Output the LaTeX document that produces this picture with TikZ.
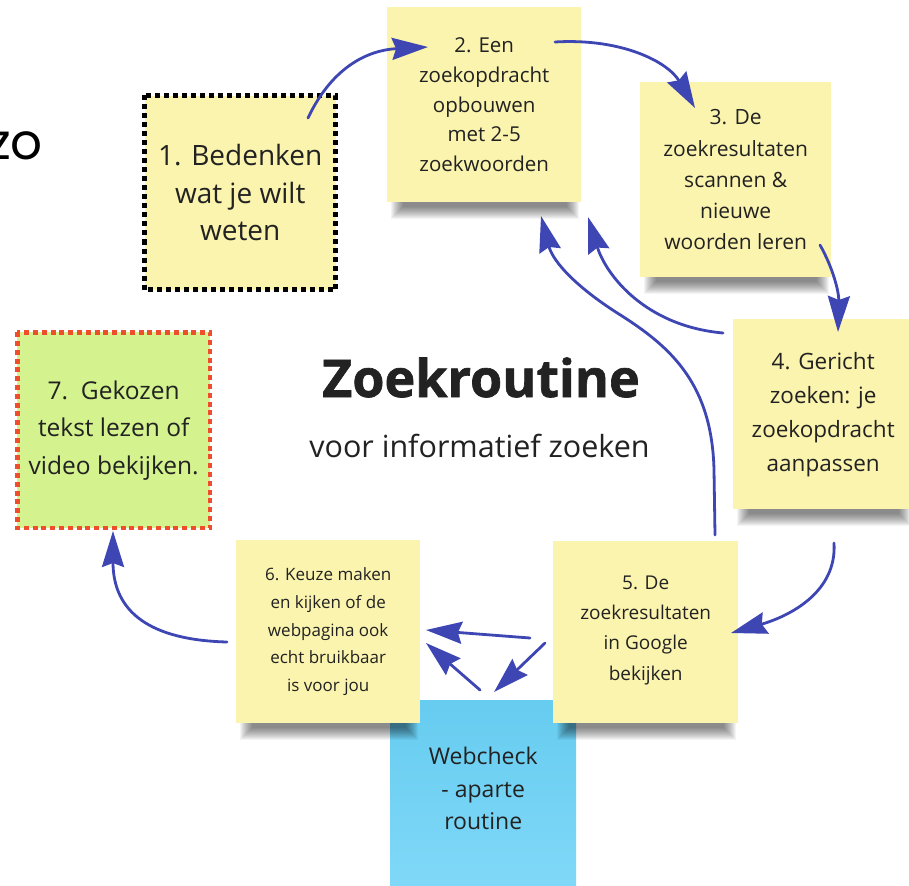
\documentclass[tikz,border=0pt]{standalone}
\usepackage{fontspec}
\setmainfont{Open Sans}
\newfontfamily\titlefont{Open Sans}[BoldFeatures={FakeBold=1.3}]
\newfontfamily\zofont{Poppins}
\usetikzlibrary{arrows.meta}
\definecolor{stickyY}{HTML}{FBF4AE}
\definecolor{stickyG}{HTML}{D4F28E}
\definecolor{blueTop}{HTML}{66CCF0}
\definecolor{blueBot}{HTML}{80D8F8}
\definecolor{arrowc}{HTML}{3E46B4}
\definecolor{ink}{HTML}{222222}
\definecolor{redb}{HTML}{EE4E2C}
\tikzset{
  sticky/.style={fill=stickyY, inner sep=0pt, anchor=north west, align=center, text=ink},
  plainnote/.style={inner sep=0pt, anchor=north west, align=center, text=ink},
  flow/.style={draw=arrowc, line width=2.8pt, line cap=round, -{Stealth[length=36pt,width=22pt,inset=4pt]}},
  blackdots/.style={draw=black, line width=5pt, dash pattern=on 5pt off 4pt},
  reddots/.style={draw=redb, line width=4.5pt, dash pattern=on 5pt off 3.8pt},
  shadowlayer/.style={fill=black, opacity=0.045},
}
% soft shadow under a note: left x, right x, bottom y
\newcommand\noteshadow[3]{%
  \foreach \k in {0,...,12}{%
    \fill[shadowlayer] ({#1+16-\k},{#3-30-\k}) rectangle ({#2-14+\k},{#3+5+\k});
  }}
\begin{document}
\begin{tikzpicture}[x=1pt,y=-1pt]
\useasboundingbox (0,0) rectangle (909,885);
\fill[white] (0,0) rectangle (909,885);

% partial text at left edge
\node[anchor=base east, inner sep=0pt, font=\zofont\fontsize{50}{50}\selectfont] (zo) at (43,160) {zo};

% webcheck (behind others)
\node[plainnote, minimum width=186pt, minimum height=186pt, top color=blueTop, bottom color=blueBot,
  font=\fontsize{23}{32.5}\selectfont] (wc) at (390,700)
  {Webcheck\\- aparte\\routine\\[-23pt]\mbox{}};

% shadows
\noteshadow{387}{581}{202}
\noteshadow{640}{831}{277}
\noteshadow{733}{913}{509}
\noteshadow{553}{738}{723}
\noteshadow{236}{420}{723}

% sticky notes
\node[sticky, minimum width=194pt, minimum height=195pt, font=\fontsize{20.5}{29.8}\selectfont] (b2) at (387,7)
  {2. Een\\zoekopdracht\\opbouwen\\met 2-5\\zoekwoorden};
\node[sticky, minimum width=191pt, minimum height=195pt, font=\fontsize{21}{31.2}\selectfont] (b3) at (640,82)
  {3. De\\zoekresultaten\\scannen \&\\nieuwe\\woorden leren};
\node[sticky, minimum width=180pt, minimum height=190pt, font=\fontsize{22.5}{34}\selectfont] (b4) at (733,319)
  {4. Gericht\\zoeken: je\\zoekopdracht\\aanpassen};
\node[sticky, minimum width=185pt, minimum height=182pt, font=\fontsize{19}{30.3}\selectfont] (b5) at (553,541)
  {5. De\\zoekresultaten\\in Google\\bekijken\\[-22pt]\mbox{}};
\node[sticky, minimum width=184pt, minimum height=183pt, font=\fontsize{17}{27.7}\selectfont] (b6) at (236,540)
  {6. Keuze maken\\en kijken of de\\webpagina ook\\echt bruikbaar\\is voor jou};

% dotted-border notes
\node[plainnote, fill=stickyY, minimum width=191pt, minimum height=194pt, font=\fontsize{28}{37.5}\selectfont] (b1) at (144.5,95.5)
  {1. Bedenken\\wat je wilt\\weten};
\draw[blackdots] (b1.north west) rectangle (b1.south east);
\node[plainnote, fill=stickyG, minimum width=192.5pt, minimum height=195.5pt, font=\fontsize{24.5}{37.5}\selectfont] (b7) at (17.25,332.25)
  {7.\ \ Gekozen\\tekst lezen of\\video bekijken.};
\draw[reddots] (b7.north west) rectangle (b7.south east);

% title
\node[anchor=base, font=\titlefont\bfseries\fontsize{52}{52}\selectfont, text=ink, inner sep=0pt] (title) at (481,397) {Zoekroutine};
\node[anchor=base, font=\fontsize{30.5}{30.5}\selectfont, text=ink, inner sep=0pt] (sub) at (479.5,457) {voor informatief zoeken};

% connector end points
\coordinate (a1s) at (308,118); \coordinate (a1e) at (428,47);
\coordinate (a2s) at (555,42);  \coordinate (a2e) at (695,108);
\coordinate (a3s) at (820,245); \coordinate (a3e) at (838,332);
\coordinate (a4s) at (723,333); \coordinate (a4e) at (588,217);
\coordinate (a5s) at (715,535); \coordinate (a5e) at (541,216);
\coordinate (a6s) at (834,543); \coordinate (a6e) at (731,633);
\coordinate (a7s) at (530,638); \coordinate (a7e) at (426,630);
\coordinate (a8s) at (545,643); \coordinate (a8e) at (494,692);
\coordinate (a9s) at (480,690); \coordinate (a9e) at (426,643);
\coordinate (a10s) at (227,642); \coordinate (a10e) at (113,531);

\draw[flow] (a1s) .. controls (333,65) and (370,50) .. (a1e);
\draw[flow] (a2s) .. controls (622,38) and (668,62) .. (a2e);
\draw[flow] (a3s) .. controls (833,268) and (839,292) .. (a3e);
\draw[flow] (a4s) .. controls (645,326) and (606,275) .. (a4e);
\draw[flow] (a5s) -- (714,470) .. controls (712,385) and (672,348) .. (622,316) .. controls (577,288) and (553,262) .. (a5e);
\draw[flow] (a6s) .. controls (837,592) and (790,616) .. (a6e);
\draw[flow] (a7s) -- (a7e);
\draw[flow] (a8s) -- (a8e);
\draw[flow] (a9s) -- (a9e);
\draw[flow] (a10s) .. controls (150,640) and (113,612) .. (a10e);
\end{tikzpicture}
\end{document}
